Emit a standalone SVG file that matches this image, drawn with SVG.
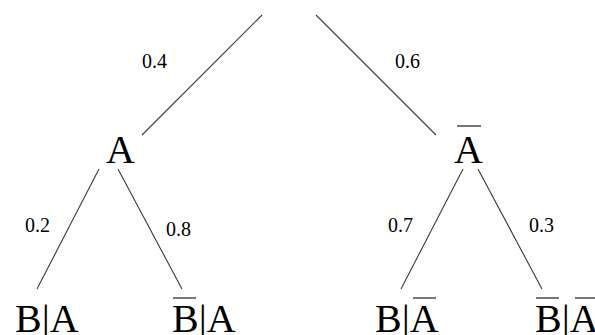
<svg xmlns="http://www.w3.org/2000/svg" width="595" height="335" viewBox="0 0 595 335">
<style>
.edge{stroke:#3a3a3a;stroke-width:1.1;fill:none}
.node{font-family:"Liberation Serif","Times New Roman",serif;font-size:40px;fill:#000}
.lbl{font-family:"Liberation Serif","Times New Roman",serif;font-size:20px;fill:#000}
.bar{stroke:#555;stroke-width:1.6}
</style>
<rect width="595" height="335" fill="#fff"/>
<g id="connectors">
<line class="edge" x1="262" y1="15" x2="142" y2="135"/>
<line class="edge" x1="316" y1="15" x2="436" y2="135"/>
<line class="edge" x1="99" y1="169" x2="37" y2="289"/>
<line class="edge" x1="118" y1="169" x2="182" y2="289"/>
<line class="edge" x1="463" y1="169" x2="401" y2="289"/>
<line class="edge" x1="478" y1="169" x2="542" y2="289"/>
<text class="lbl" x="142" y="68">0.4</text>
<text class="lbl" x="395" y="68">0.6</text>
<text class="lbl" x="25" y="232">0.2</text>
<text class="lbl" x="166" y="236">0.8</text>
<text class="lbl" x="388" y="232">0.7</text>
<text class="lbl" x="529" y="232">0.3</text>
</g>
<g id="nodeA"><text class="node" x="106" y="163">A</text></g>
<g id="nodeNotA"><text class="node" x="454" y="163">A</text><line class="bar" x1="457" y1="126" x2="481" y2="126"/></g>
<g id="nodeBgA"><text class="node" x="15" y="332">B|A</text></g>
<g id="nodeNotBgA"><text class="node" x="172" y="332">B|A</text><line class="bar" x1="173" y1="298" x2="196" y2="298"/></g>
<g id="nodeBgNotA"><text class="node" x="375" y="332">B|A</text><line class="bar" x1="413" y1="298" x2="436" y2="298"/></g>
<g id="nodeNotBgNotA"><text class="node" x="535" y="332">B|A</text><line class="bar" x1="536" y1="298" x2="559" y2="298"/><line class="bar" x1="575" y1="298" x2="598" y2="298"/></g>
</svg>
